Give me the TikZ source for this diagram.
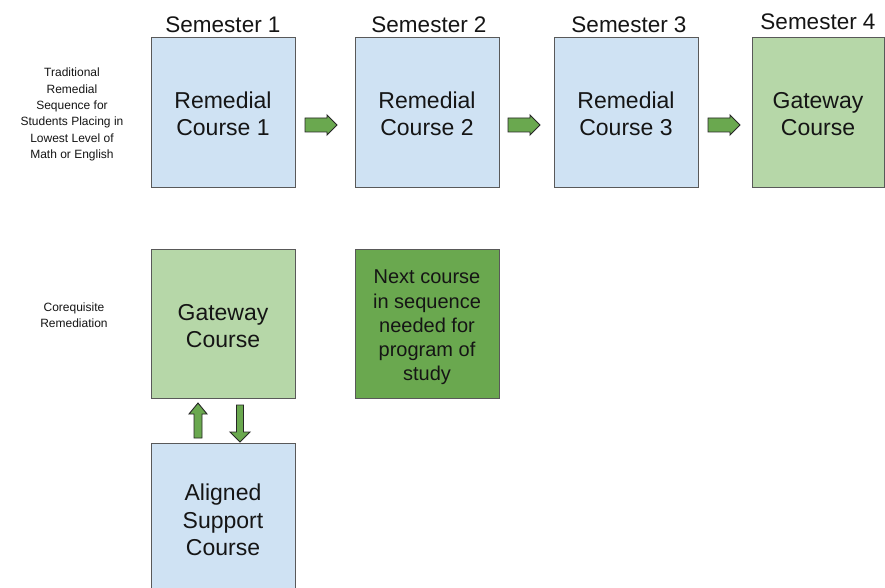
\documentclass[tikz,border=0pt]{standalone}
\usepackage{fontspec}
\setmainfont{Liberation Sans}
\definecolor{lblue}{HTML}{CFE2F3}
\definecolor{lgreen}{HTML}{B6D7A8}
\definecolor{dgreen}{HTML}{6AA84F}
\definecolor{edgegray}{HTML}{595959}
\definecolor{txt}{HTML}{151515}
\tikzset{
  box/.style={draw=edgegray, line width=1pt, minimum width=144pt, minimum height=149pt,
    inner sep=0pt},
  boxtext/.style={align=center, text=txt, inner sep=0pt, font=\fontsize{23}{27.5}\selectfont},
  smalltext/.style={boxtext, font=\fontsize{20}{24.3}\selectfont},
  semlabel/.style={text=txt, font=\fontsize{22.5}{27}\selectfont, inner sep=0pt},
  sidelabel/.style={text=txt, align=center, font=\fontsize{12}{16.4}\selectfont, inner sep=0pt},
  blockarrow/.style={fill=dgreen, draw=black!85, line width=0.9pt, line join=miter}
}
\begin{document}
\begin{tikzpicture}[x=1pt,y=-1pt]
\useasboundingbox (0,0) rectangle (885,588);
\clip (0,0) rectangle (885,588);
\fill[white] (0,0) rectangle (885,588);

% top row
\node[box, fill=lblue] (r1) at (223,112.5) {};
\node[box, fill=lblue] (r2) at (427,112.5) {};
\node[box, fill=lblue] (r3) at (626,112.5) {};
\node[box, fill=lgreen, minimum width=132pt] (g4) at (818,112.5) {};
\node[boxtext] (t1) at ([yshift=-1.5pt]r1.center) {Remedial\\Course 1};
\node[boxtext] (t2) at ([yshift=-1.5pt]r2.center) {Remedial\\Course 2};
\node[boxtext] (t3) at ([yshift=-1.5pt]r3.center) {Remedial\\Course 3};
\node[boxtext] (t4) at ([yshift=-1.5pt]g4.center) {Gateway\\Course};

\node[semlabel] (s1) at (223,24.5) {Semester 1};
\node[semlabel] (s2) at (429,24.5) {Semester 2};
\node[semlabel] (s3) at (629,24.5) {Semester 3};
\node[semlabel] (s4) at (818,21.5) {Semester 4};

\node[sidelabel] (trad) at (72,114.5) {Traditional\\Remedial\\Sequence for\\Students Placing in\\Lowest Level of\\Math or English};

% second row
\node[box, fill=lgreen] (g1) at (223,323.5) {};
\node[box, fill=dgreen] (nx) at (427,324) {};
\node[box, fill=lblue] (al) at (223,517.5) {};
\node[boxtext] (t5) at ([yshift=-2.5pt]g1.center) {Gateway\\Course};
\node[smalltext] (t6) at ([yshift=-3.5pt]nx.center) {Next course\\in sequence\\needed for\\program of\\study};
\node[boxtext] (t7) at ([yshift=-2.5pt]al.center) {Aligned\\Support\\Course};

\node[sidelabel] (coreq) at (74,315.5) {Corequisite\\Remediation};

% horizontal block arrows
\foreach \x in {305,508,708}{
  \path[blockarrow] (\x,118) -- (\x+22,118) -- (\x+22,115) -- (\x+32,125)
     -- (\x+22,135) -- (\x+22,132) -- (\x,132) -- cycle;
}

% up arrow
\path[blockarrow] (194,438) -- (194,414) -- (189,414) -- (198,403) -- (207,414)
  -- (202,414) -- (202,438) -- cycle;
% down arrow
\path[blockarrow] (236.5,405) -- (243.5,405) -- (243.5,432) -- (250,432) -- (240,442)
  -- (230,432) -- (236.5,432) -- cycle;
\end{tikzpicture}
\end{document}
